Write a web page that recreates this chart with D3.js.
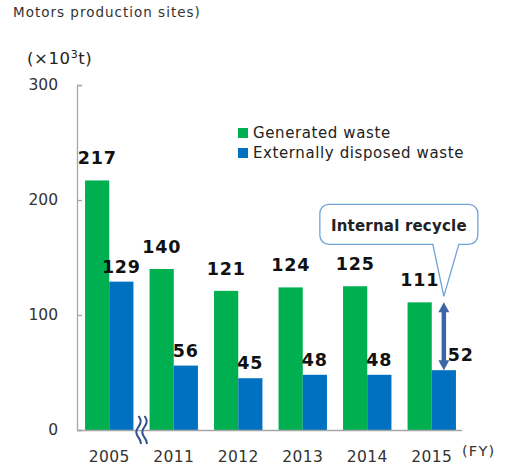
<!DOCTYPE html>
<html>
<head>
<meta charset="utf-8">
<script src="https://cdn.jsdelivr.net/npm/d3@7"></script>
<style>
  html, body { margin: 0; padding: 0; background: #fff; }
  svg { display: block; font-family: "DejaVu Sans", Verdana, sans-serif; }
</style>
</head>
<body>
<svg id="chart" width="515" height="468"></svg>
<script>
// Waste generated vs. externally disposed, by fiscal year (×10³ t)
const years = ["2005", "2011", "2012", "2013", "2014", "2015"];
const generatedWaste = [217, 140, 121, 124, 125, 111];
const disposedWaste = [129, 56, 45, 48, 48, 52];
const seriesNames = ["Generated waste", "Externally disposed waste"];
const seriesColors = ["#00b050", "#0070c0"];
const yTickValues = [0, 100, 200, 300];

const svg = d3.select("#chart");

const y = d3.scaleLinear().domain([0, 300]).range([430, 85]);
const x0 = d3.scaleBand().domain(years).range([77, 464])
  .paddingInner(0.25).paddingOuter(0.125);
const x1 = d3.scaleBand().domain(seriesNames).range([0, x0.bandwidth()]);

const rows = years.map((yr, i) => ({
  year: yr,
  values: [
    { name: seriesNames[0], value: generatedWaste[i] },
    { name: seriesNames[1], value: disposedWaste[i] }
  ]
}));

// Header text
svg.append("text").attr("x", 13).attr("y", 17)
  .attr("font-size", 13.5).attr("letter-spacing", 1).attr("fill", "#333")
  .text("Motors production sites)");

// Unit label with raised exponent
const unit = svg.append("text").attr("x", 27).attr("y", 64)
  .attr("font-size", 16.5).attr("letter-spacing", 0.6).attr("fill", "#222");
unit.append("tspan").text("(×10");
unit.append("tspan").attr("font-size", 11).attr("dy", -6).text("3");
unit.append("tspan").attr("dy", 6).text("t)");

// Y axis with inward ticks
const yAxis = svg.append("g").attr("transform", "translate(77,0)")
  .call(d3.axisLeft(y).tickValues(yTickValues).tickSize(-5).tickPadding(19));
yAxis.selectAll("path, line").attr("stroke", "#a6a6a6").attr("stroke-width", 1.3);
yAxis.selectAll("text").attr("font-size", 15.5).attr("fill", "#333")
  .attr("font-family", "DejaVu Sans, Verdana, sans-serif");

// Bars
const groups = svg.append("g").selectAll("g").data(rows).join("g")
  .attr("transform", d => `translate(${x0(d.year)},0)`);

groups.selectAll("rect").data(d => d.values).join("rect")
  .attr("x", d => x1(d.name))
  .attr("width", x1.bandwidth())
  .attr("y", d => y(d.value))
  .attr("height", d => y(0) - y(d.value))
  .attr("fill", (d, i) => seriesColors[i]);

// X axis (baseline only, no ticks)
const xAxis = svg.append("g").attr("transform", "translate(0,430)")
  .call(d3.axisBottom(x0).tickSize(0).tickSizeOuter(0));
xAxis.select("path").attr("stroke", "#a6a6a6").attr("stroke-width", 1.3)
  .attr("d", `M77,0.5H462`);
xAxis.selectAll("text").attr("font-size", 15.5).attr("letter-spacing", 0.4).attr("fill", "#333")
  .attr("font-family", "DejaVu Sans, Verdana, sans-serif")
  .attr("dy", null).attr("y", 32);

svg.append("text").attr("x", 462).attr("y", 456)
  .attr("font-size", 14.5).attr("letter-spacing", 1.2).attr("fill", "#333").text("(FY)");

// Axis break between 2005 and 2011
const breakX = (x0("2005") + x0.bandwidth() + x0("2011")) / 2;
const wave = d3.line().curve(d3.curveBasis);
[-3, 3].forEach(dx => {
  const pts = d3.range(0, 29, 3.5).map(t => [breakX + dx + 2.6 * Math.sin(t / 28 * Math.PI * 2.6), 416 + t]);
  svg.append("path").attr("d", wave(pts))
    .attr("fill", "none").attr("stroke", "#2f4f8f").attr("stroke-width", 2);
});

// Value labels
const arrowIdx = years.indexOf("2015");
groups.selectAll("text.val").data((d, gi) => d.values.map(v => ({ ...v, gi }))).join("text")
  .attr("class", "val")
  .attr("x", d => x1(d.name) + x1.bandwidth() / 2 + (d.name === seriesNames[1] && d.gi === arrowIdx ? 17 : 0))
  .attr("y", d => y(d.value) - (d.name === seriesNames[0] ? 16 : 9))
  .attr("text-anchor", "middle")
  .attr("font-size", 17.5).attr("letter-spacing", 0.8).attr("font-weight", "bold").attr("fill", "#111")
  .text(d => d.value);

// Internal recycle arrow: from generated top down to disposed top (2015)
const ax = x0("2015") + x1(seriesNames[1]) + x1.bandwidth() / 2;
const aTop = y(generatedWaste[arrowIdx]);
const aBot = y(disposedWaste[arrowIdx]);
const arrowColor = "#3d66a8";
svg.append("line").attr("x1", ax).attr("x2", ax)
  .attr("y1", aTop + 8).attr("y2", aBot - 8)
  .attr("stroke", arrowColor).attr("stroke-width", 4.5);
svg.append("path").attr("fill", arrowColor)
  .attr("d", `M${ax},${aTop}L${ax - 5.5},${aTop + 10}L${ax + 5.5},${aTop + 10}Z`);
svg.append("path").attr("fill", arrowColor)
  .attr("d", `M${ax},${aBot}L${ax - 5.5},${aBot - 10}L${ax + 5.5},${aBot - 10}Z`);

// Callout bubble
const tipY = aTop - 6;
const bx0 = ax - 124, bx1 = ax + 34, by0 = tipY - 92, by1 = tipY - 52, r = 9;
const p = d3.path();
p.moveTo(bx0 + r, by0);
p.lineTo(bx1 - r, by0);
p.arcTo(bx1, by0, bx1, by0 + r, r);
p.lineTo(bx1, by1 - r);
p.arcTo(bx1, by1, bx1 - r, by1, r);
p.lineTo(ax + 15, by1);
p.lineTo(ax, tipY);
p.lineTo(ax - 11, by1);
p.lineTo(bx0 + r, by1);
p.arcTo(bx0, by1, bx0, by1 - r, r);
p.lineTo(bx0, by0 + r);
p.arcTo(bx0, by0, bx0 + r, by0, r);
p.closePath();
svg.append("path").attr("d", p.toString())
  .attr("fill", "#fff").attr("stroke", "#6fa3d8").attr("stroke-width", 1.3);
svg.append("text").attr("x", (bx0 + bx1) / 2).attr("y", by0 + 27)
  .attr("text-anchor", "middle").attr("font-size", 15).attr("letter-spacing", 0.2).attr("font-weight", "bold")
  .attr("fill", "#222").text("Internal recycle");

// Legend
const legend = svg.append("g").selectAll("g").data(seriesNames).join("g")
  .attr("transform", (d, i) => `translate(238,${128 + i * 20})`);
legend.append("rect").attr("width", 10).attr("height", 10)
  .attr("fill", (d, i) => seriesColors[i]);
legend.append("text").attr("x", 15).attr("y", 10)
  .attr("font-size", 15).attr("letter-spacing", 0.6).attr("fill", "#222").text(d => d);
</script>
</body>
</html>
